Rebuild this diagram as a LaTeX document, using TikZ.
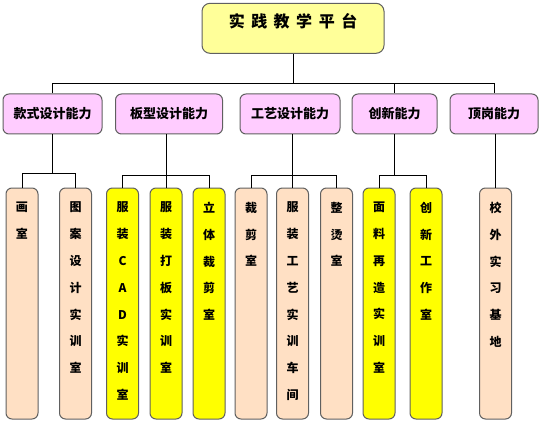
\documentclass[tikz,border=0pt]{standalone}
\usepackage{fontspec}
\newfontfamily\cjk{Noto Sans CJK SC}
\usetikzlibrary{positioning}
\definecolor{platformyellow}{RGB}{255,255,153}
\definecolor{abilitypink}{RGB}{255,204,255}
\definecolor{roompeach}{RGB}{255,224,196}
\definecolor{roomyellow}{RGB}{255,255,0}
\definecolor{boxgray}{RGB}{96,96,96}
% vertical label, written from the top of a tall box
\newcommand{\vlab}[1]{\parbox[c][231pt][t]{30pt}{\vspace*{14pt}\centering #1}}

\begin{document}
\begin{tikzpicture}[x=1pt,y=-1pt,
    platform/.style={draw=boxgray,fill=platformyellow,line width=1pt,rounded corners=8pt,
        minimum width=182pt,minimum height=50pt,text height=14pt,text depth=15pt,
        font=\cjk\bfseries\fontsize{16}{18}\selectfont},
    ability/.style={draw=boxgray,fill=abilitypink,line width=1pt,rounded corners=6pt,
        minimum height=40pt,inner sep=0pt,font=\cjk\bfseries\fontsize{13}{15}\selectfont},
    room/.style={draw=boxgray,line width=1pt,rounded corners=6pt,minimum width=32pt,
        minimum height=231pt,inner sep=0pt,font=\cjk\bfseries\fontsize{12}{26.8}\selectfont},
    peachroom/.style={room,fill=roompeach},
    yellowroom/.style={room,fill=roomyellow},
    link/.style={line width=0.8pt,black}]
  \useasboundingbox (0,0) rectangle (545,422);

  \node[platform] (top) at (293,28.3) {\spaceskip=6.5pt 实 践 教 学 平 台};

  % abilities
  \node[ability,minimum width=99pt]  (style)   at (52.5,114) {款式设计能力};
  \node[ability,minimum width=107pt] (pattern) at (169,114)  {板型设计能力};
  \node[ability,minimum width=100pt] (craft)   at (290,114)  {工艺设计能力};
  \node[ability,minimum width=85pt]  (innov)   at (394.5,114) {创新能力};
  \node[ability,minimum width=88pt]  (post)    at (494,114)  {顶岗能力};

  % rooms
  \node[peachroom]  (paint)  at (22,303.5)    {\vlab{画\\室}};
  \node[peachroom]  (motif)  at (75.5,303.5)  {\vlab{图\\案\\设\\计\\实\\训\\室}};
  \node[yellowroom] (cad)    at (122.5,303.5) {\vlab{服\\装\\C\\A\\D\\实\\训\\室}};
  \node[yellowroom] (board)  at (166,303.5)   {\vlab{服\\装\\打\\板\\实\\训\\室}};
  \node[yellowroom] (drape)  at (209,303.5)   {\vlab{立\\体\\裁\\剪\\室}};
  \node[peachroom]  (cut)    at (251,303.5)   {\vlab{裁\\剪\\室}};
  \node[peachroom]  (sew)    at (292.5,303.5) {\vlab{服\\装\\工\\艺\\实\\训\\车\\间}};
  \node[peachroom]  (iron)   at (336.5,303.5) {\vlab{整\\烫\\室}};
  \node[yellowroom] (fabric) at (379,303.5)   {\vlab{面\\料\\再\\造\\实\\训\\室}};
  \node[yellowroom] (studio) at (426,303.5)   {\vlab{创\\新\\工\\作\\室}};
  \node[peachroom]  (base)   at (495.5,303.5) {\vlab{校\\外\\实\\习\\基\\地}};

  % connectors
  \coordinate (bus1) at (0,83.5);
  \coordinate (busa) at (0,173.5);
  \coordinate (busb) at (0,175.5);
  \draw[link] (top.south) -- (top.south |- bus1);
  \draw[link] (style.north) |- (bus1 -| post.north) -- (post.north);
  \draw[link] (pattern.north -| board) -- (pattern.north -| board |- bus1);
  \draw[link] (craft.north -| sew) -- (craft.north -| sew |- bus1);
  \draw[link] (innov.north) -- (innov.north |- bus1);

  \draw[link] (style.south) -- (style.south |- busa);
  \draw[link] (paint.north) |- (busa -| motif.north) -- (motif.north);
  \foreach \p/\l/\r in {pattern/cad/drape,craft/cut/iron,innov/fabric/studio}
    \draw[link] (\l.north) |- (busb -| \r.north) -- (\r.north);
  \draw[link] (pattern.south -| board) -- (board.north);
  \draw[link] (craft.south -| sew) -- (sew.north);
  \draw[link] (innov.south) -- (innov.south |- busb);
  \draw[link] (post.south -| base) -- (base.north);
\end{tikzpicture}
\end{document}
